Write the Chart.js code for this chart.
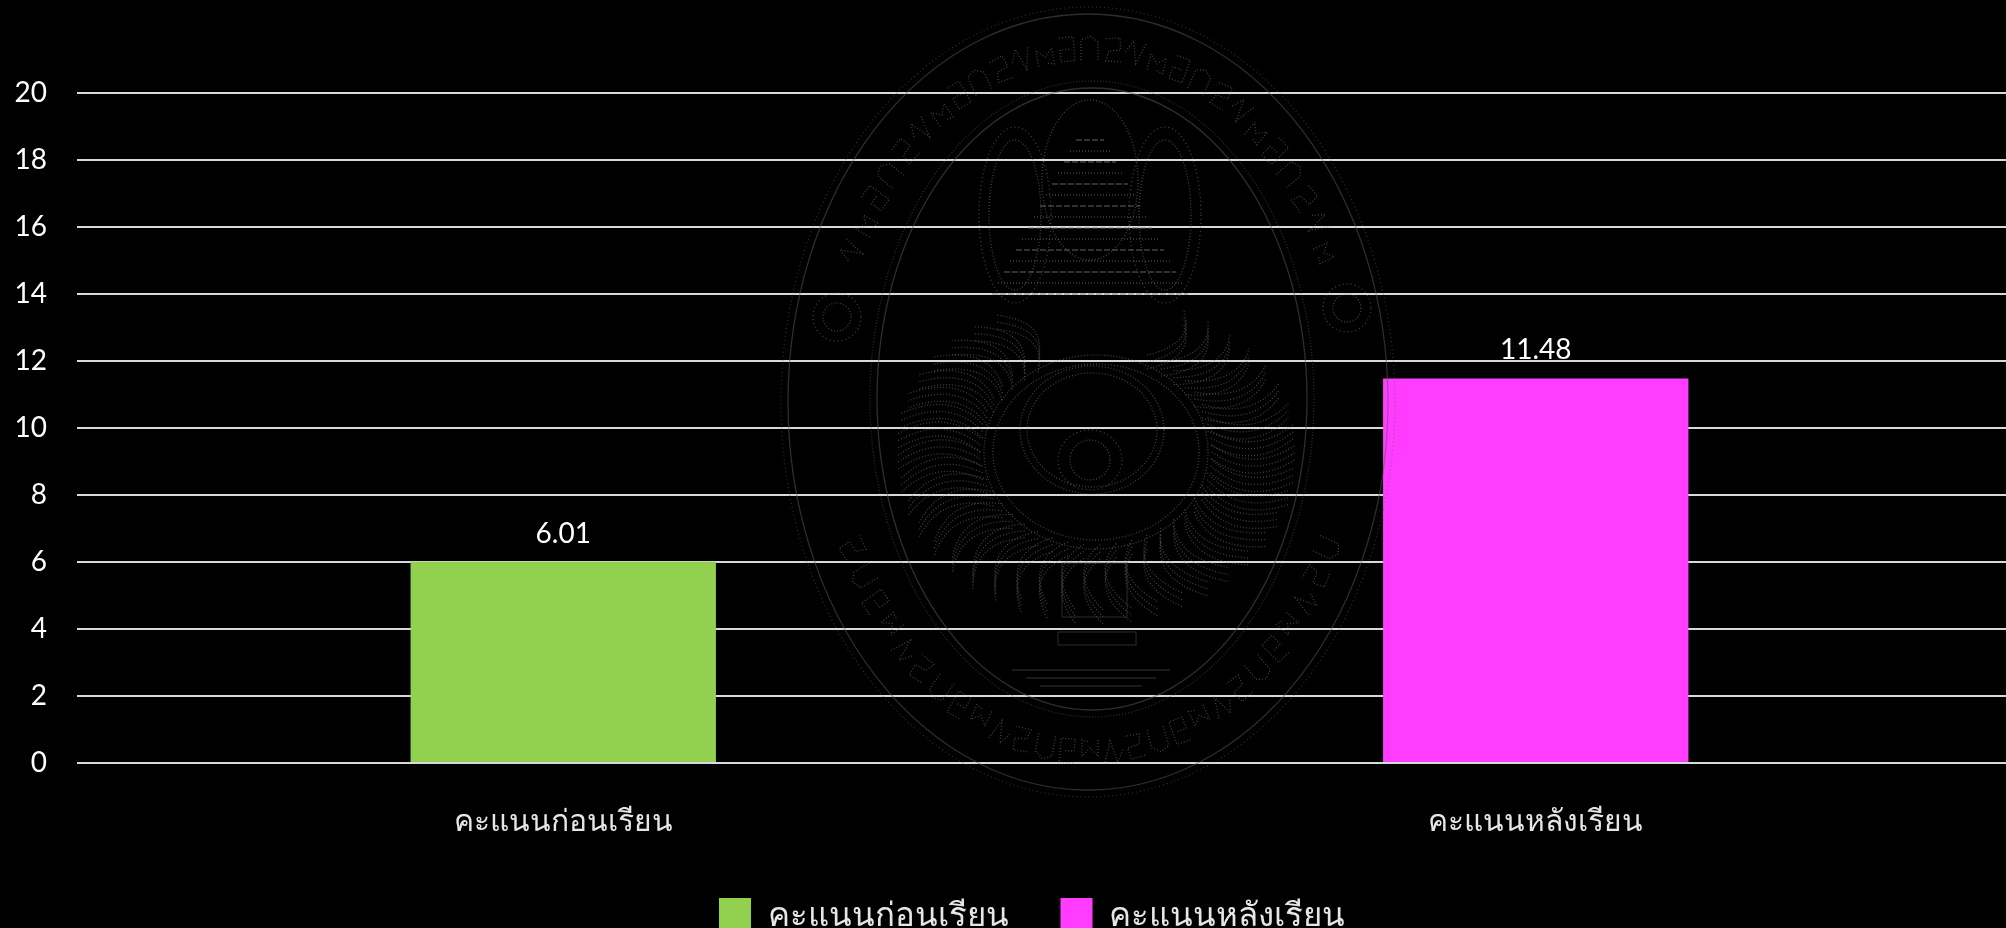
<!DOCTYPE html>
<html lang="th">
<head>
<meta charset="utf-8">
<title>คะแนนก่อนเรียนและหลังเรียน</title>
<script src="https://cdn.jsdelivr.net/npm/chart.js@4"></script>
<style>
    html, body { margin: 0; background: #000; overflow: hidden; width: 2006px; height: 928px; }
    #scoreChart { position: absolute; left: 0; top: 0; }
</style>
</head>
<body>
<canvas id="scoreChart" width="2065" height="942"></canvas>
<script>
// Scores
const categories = ['คะแนนก่อนเรียน', 'คะแนนหลังเรียน'];
const beforeScores = [6.01, null];
const afterScores = [null, 11.48];
const yTicks = [0, 2, 4, 6, 8, 10, 12, 14, 16, 18, 20];

const fontFamily = "Lato, 'Noto Sans', sans-serif";

function ring(ctx, x, y, rx, ry, dash) {
    ctx.setLineDash(dash || []);
    ctx.beginPath();
    ctx.ellipse(x, y, rx, ry, 0, 0, Math.PI * 2);
    ctx.stroke();
}

// Little letter-like squiggles for the band of the seal
const sealGlyphs = [
    [[-9, 12], [-9, -8], [0, -12], [8, -6], [8, 12]],
    [[-8, -10], [6, -12], [8, 0], [-4, 2], [-6, 12], [9, 12]],
    [[-10, 0], [-4, -12], [2, 10], [9, -12]],
    [[-8, 12], [-8, -4], [0, 4], [8, -4], [8, 12], [0, 10]],
    [[-7, -12], [7, -12], [7, 12], [-7, 12], [-7, 0], [3, 0]]
];

// Faint outline of the university seal, drawn over the bars
const sealPlugin = {
    id: 'seal',
    afterDatasetsDraw(chart) {
        const ctx = chart.ctx;
        ctx.save();
        ctx.strokeStyle = 'rgba(90,90,90,0.5)';
        ctx.lineWidth = 1.3;

        // outer border and inner border
        ring(ctx, 1088, 402, 300, 388);
        ring(ctx, 1088, 402, 307, 395, [1, 3]);
        ring(ctx, 1092, 399, 215, 311);
        ring(ctx, 1092, 399, 222, 318, [1, 2]);

        ctx.strokeStyle = 'rgba(120,120,120,0.55)';

        // lettering band between the two borders
        ctx.setLineDash([1, 2]);
        let glyph = 0;
        for (let deg = 0; deg < 360; deg += 5) {
            const a = deg * Math.PI / 180;
            if (Math.abs(Math.sin(a)) < 0.42) continue;
            const x = 1090 + Math.cos(a) * 262;
            const y = 400 + Math.sin(a) * 352;
            ctx.save();
            ctx.translate(x, y);
            ctx.rotate(a + Math.PI / 2);
            ctx.beginPath();
            sealGlyphs[glyph++ % sealGlyphs.length].forEach((p, i) => {
                if (i === 0) ctx.moveTo(p[0], p[1]);
                else ctx.lineTo(p[0], p[1]);
            });
            ctx.stroke();
            ctx.restore();
        }

        // side rosettes
        ring(ctx, 837, 317, 14, 14, [1, 2]);
        ring(ctx, 837, 317, 24, 24, [1, 3]);
        ring(ctx, 1347, 308, 14, 14, [1, 2]);
        ring(ctx, 1347, 308, 24, 24, [1, 3]);

        // centre rings
        ring(ctx, 1092, 430, 65, 57, [1, 2]);
        ring(ctx, 1092, 430, 72, 64, [1, 2]);
        ring(ctx, 1096, 452, 103, 88, [1, 2]);
        ring(ctx, 1096, 452, 112, 97, [1, 2]);
        ring(ctx, 1090, 460, 20, 20, [1, 2]);
        ring(ctx, 1090, 460, 32, 30, [1, 3]);

        // rays leaving the centre rings
        ctx.setLineDash([1, 2]);
        for (let deg = 0; deg < 360; deg += 8) {
            const a = deg * Math.PI / 180;
            const sinA = Math.sin(a), cosA = Math.cos(a);
            if (sinA < -0.92) continue;
            [0, 7, 14].forEach(off => {
                ctx.beginPath();
                ctx.moveTo(1096 + cosA * 116, 452 + sinA * 100 + off - 7);
                ctx.quadraticCurveTo(
                    1096 + Math.cos(a + 0.22) * 160, 452 + Math.sin(a + 0.22) * 130 + off - 7,
                    1096 + cosA * 200, 452 + sinA * (sinA > 0 ? 165 : 150) + off - 7
                );
                ctx.stroke();
            });
        }

        // stupa tiers and the loops flanking it
        for (let i = 0; i < 15; i++) {
            const y = 140 + i * 11;
            const half = 14 + i * 6;
            ctx.setLineDash(i % 2 ? [1, 2] : [6, 2]);
            ctx.beginPath();
            ctx.moveTo(1090 - half, y);
            ctx.lineTo(1090 + half, y);
            ctx.stroke();
        }
        ring(ctx, 1090, 180, 48, 80, [1, 2]);
        ring(ctx, 1015, 215, 26, 75, [1, 2]);
        ring(ctx, 1165, 215, 26, 75, [1, 2]);
        ring(ctx, 1015, 215, 36, 88, [1, 3]);
        ring(ctx, 1165, 215, 36, 88, [1, 3]);

        // pedestal
        ctx.setLineDash([]);
        ctx.strokeStyle = 'rgba(70,70,70,0.5)';
        ctx.strokeRect(1062, 563, 65, 54);
        ctx.strokeRect(1058, 632, 78, 13);
        [670, 678, 686].forEach((y, i) => {
            ctx.beginPath();
            ctx.moveTo(1012 + i * 14, y);
            ctx.lineTo(1170 - i * 14, y);
            ctx.stroke();
        });
        ctx.restore();
    }
};

// Value above each bar, read from the dataset
const barValuePlugin = {
    id: 'barValue',
    afterDraw(chart) {
        const ctx = chart.ctx;
        ctx.save();
        ctx.fillStyle = '#fff';
        ctx.font = '28px ' + fontFamily;
        ctx.textAlign = 'center';
        ctx.textBaseline = 'alphabetic';
        chart.data.datasets.forEach((ds, i) => {
            chart.getDatasetMeta(i).data.forEach((bar, j) => {
                if (ds.data[j] === null) return;
                ctx.fillText(ds.data[j].toFixed(2), bar.x, bar.y - 19);
            });
        });
        ctx.restore();
    }
};

// The legend sits a little right of the plot's centre
const legendShiftPlugin = {
    id: 'legendShift',
    afterLayout(chart) {
        chart.legend.left += 21;
        chart.legend.right += 21;
    }
};

new Chart(document.getElementById('scoreChart').getContext('2d'), {
    type: 'bar',
    data: {
        labels: categories,
        datasets: [
            { label: categories[0], data: beforeScores, backgroundColor: '#92d050' },
            { label: categories[1], data: afterScores, backgroundColor: '#ff3cff' }
        ]
    },
    plugins: [sealPlugin, barValuePlugin, legendShiftPlugin],
    options: {
        responsive: false,
        animation: false,
        layout: { padding: { top: 93, right: 43, left: 0, bottom: 0 } },
        datasets: { bar: { grouped: false, categoryPercentage: 1, barPercentage: 0.314 } },
        scales: {
            x: {
                grid: { display: false },
                border: { display: false },
                ticks: { color: '#e6e6e6', font: { size: 30, family: fontFamily }, padding: 32, maxRotation: 0 },
                afterFit(scale) { scale.height = 83; }
            },
            y: {
                min: 0,
                max: 20,
                grid: { color: '#d9d9d9', lineWidth: 2, drawTicks: false },
                border: { display: false },
                afterBuildTicks(scale) { scale.ticks = yTicks.map(v => ({ value: v })); },
                ticks: { color: '#fff', font: { size: 28, family: fontFamily }, padding: 30 },
                afterFit(scale) { scale.width = 77; }
            }
        },
        plugins: {
            tooltip: { enabled: false },
            legend: {
                position: 'bottom',
                labels: {
                    color: '#e6e6e6',
                    font: { size: 33, family: fontFamily },
                    boxWidth: 32,
                    boxHeight: 34,
                    padding: 52
                }
            }
        }
    }
});
</script>
</body>
</html>
